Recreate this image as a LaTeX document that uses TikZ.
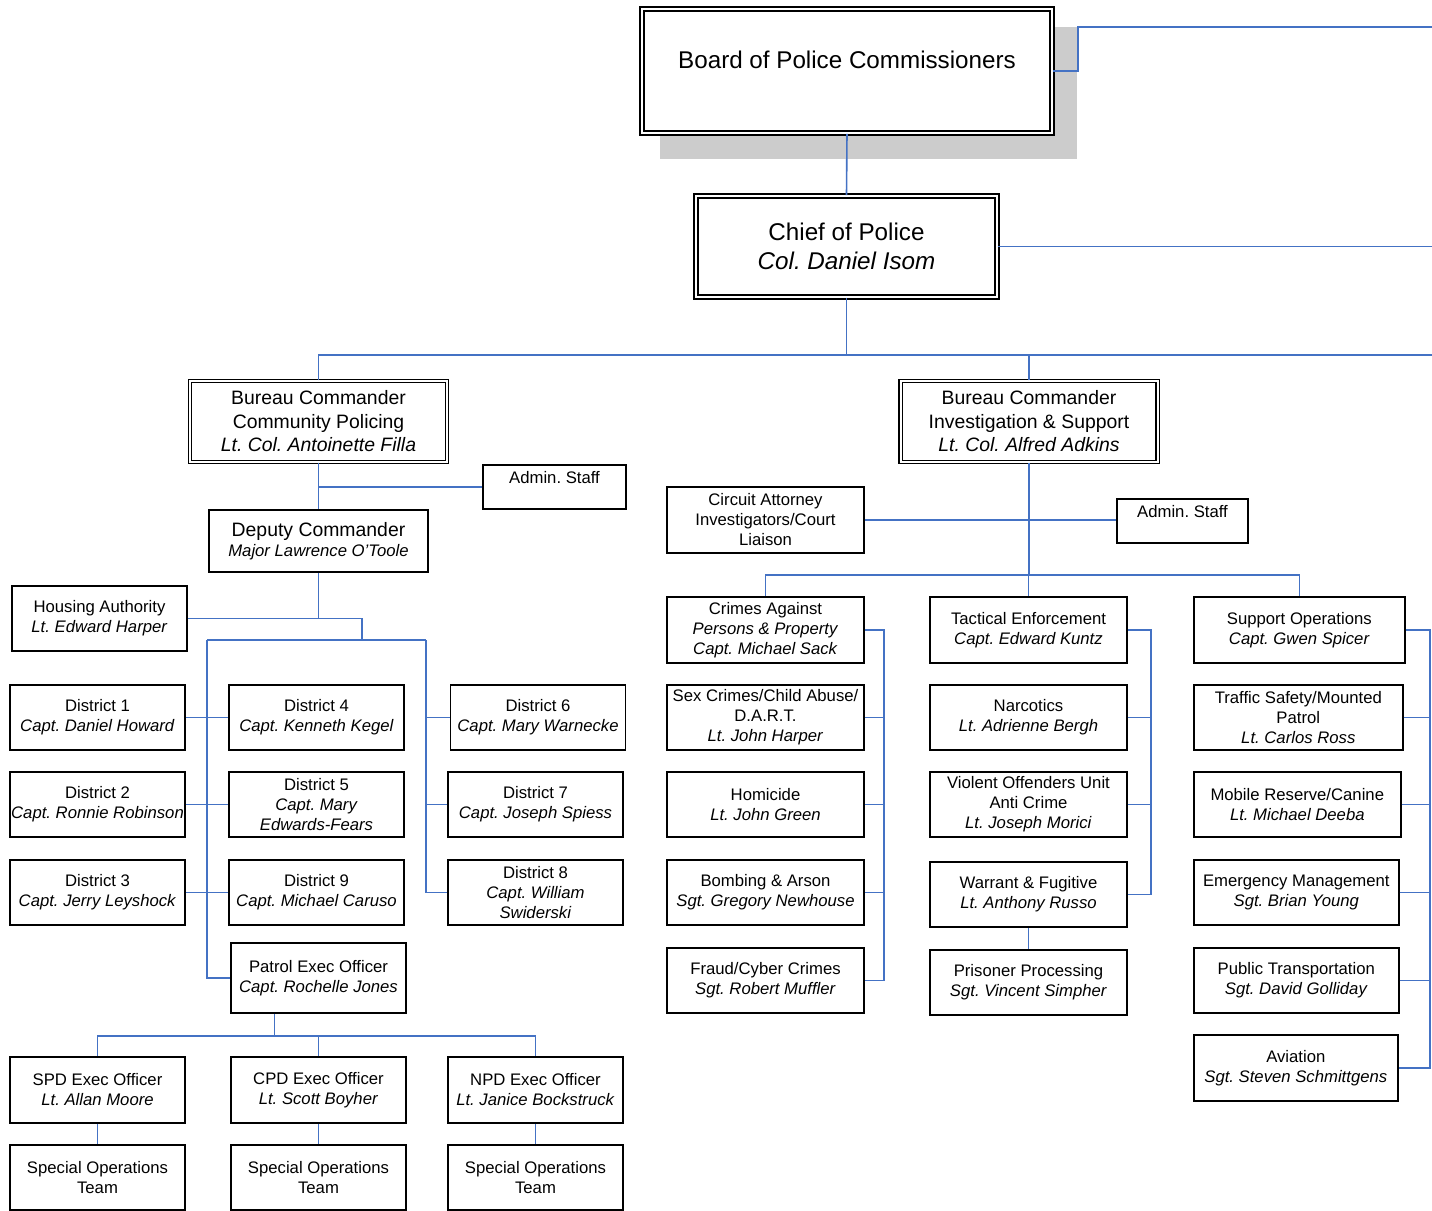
\documentclass[tikz,border=0pt]{standalone}
\usepackage{fontspec}
\setmainfont{Liberation Sans}
\usetikzlibrary{calc}
\frenchspacing
\definecolor{linkblue}{RGB}{68,114,196}
\definecolor{shadegray}{RGB}{204,204,204}
\newcommand{\smallsz}{\fontsize{8.35}{10}\selectfont}
\newcommand{\midsz}{\fontsize{9.7}{11.75}\selectfont}
\newcommand{\bigsz}{\fontsize{12.1}{14.5}\selectfont}
\tikzset{
  unit/.style={draw, line width=0.8pt, fill=white, align=center, inner sep=0pt, font=\smallsz, minimum width=87.5pt, minimum height=32.5pt},
  wideunit/.style={unit, minimum width=98.5pt, minimum height=33pt},
  headunit/.style={unit, double, line width=0.65pt, double distance=1pt, font=\midsz, minimum width=128.5pt, minimum height=40.5pt},
  topunit/.style={unit, double, line width=0.85pt, double distance=1.2pt, font=\bigsz},
  link/.style={draw=linkblue, line width=0.8pt}
}

\begin{document}
\begin{tikzpicture}[x=0.5pt, y=-0.5pt]
\useasboundingbox (0,0) rectangle (1432,1211);

% 1. Board and Chief
\fill[shadegray] (660,27) rectangle (1077,159);
\node[topunit, minimum width=205pt, minimum height=62pt] (board) at (847,71) {};
\node[font=\bigsz, inner sep=0pt] (boardtxt) at (847,60) {Board of Police Commissioners};
\node[topunit, minimum width=150.5pt, minimum height=50.5pt] (chief) at (846.5,246.5) {Chief of Police\\\textit{Col. Daniel Isom}};
\coordinate (offboard) at (1432,27);
\coordinate (offchief) at (1432,246.5);
\coordinate (offbus) at (1432,355);

% 2. Bureau commanders
\node[headunit] (bcp) at (318.5,421.5) {Bureau Commander\\Community Policing\\\textit{Lt. Col. Antoinette Filla}};
\node[headunit] (bis) at (1029,421.5) {Bureau Commander\\Investigation \& Support\\\textit{Lt. Col. Alfred Adkins}};

% 3. Community Policing side
\node[unit, minimum width=71.5pt, minimum height=22pt] (adminl) at (554.5,487) {Admin. Staff\\\mbox{}};
\node[unit, minimum width=109.5pt, minimum height=31pt] (deputy) at (318.5,541) {{\midsz Deputy Commander}\\\textit{Major Lawrence O'Toole}};
\node[unit] (housing) at (99.5,618.5) {Housing Authority\\\textit{Lt. Edward Harper}};

\node[unit] (dist1) at (97.5,717.5) {District 1\\\textit{Capt. Daniel Howard}};
\node[unit] (dist2) at (97.5,804.5) {District 2\\\textit{Capt. Ronnie Robinson}};
\node[unit] (dist3) at (97.5,892.5) {District 3\\\textit{Capt. Jerry Leyshock}};
\node[unit] (dist4) at (316.5,717.5) {District 4\\\textit{Capt. Kenneth Kegel}};
\node[unit] (dist5) at (316.5,804.5) {District 5\\\textit{Capt. Mary}\\\textit{Edwards-Fears}};
\node[unit] (dist9) at (316.5,892.5) {District 9\\\textit{Capt. Michael Caruso}};
\node[unit] (dist6) at (538,717.5) {District 6\\\textit{Capt. Mary Warnecke}};
\node[unit] (dist7) at (535.5,804.5) {District 7\\\textit{Capt. Joseph Spiess}};
\node[unit] (dist8) at (535.5,892.5) {District 8\\\textit{Capt. William}\\\textit{Swiderski}};
\node[unit, minimum height=35pt] (patrol) at (318.5,978) {Patrol Exec Officer\\\textit{Capt. Rochelle Jones}};

\node[unit, minimum height=33pt] (spd) at (97.5,1090) {SPD Exec Officer\\\textit{Lt. Allan Moore}};
\node[unit, minimum height=33pt] (cpd) at (318.5,1090) {CPD Exec Officer\\\textit{Lt. Scott Boyher}};
\node[unit, minimum height=33pt] (npd) at (535.5,1090) {NPD Exec Officer\\\textit{Lt. Janice Bockstruck}};
\node[unit] (spdteam) at (97.5,1177.5) {Special Operations\\Team};
\node[unit] (cpdteam) at (318.5,1177.5) {Special Operations\\Team};
\node[unit] (npdteam) at (535.5,1177.5) {Special Operations\\Team};

% 4. Investigation & Support side
\node[wideunit] (circuit) at (765.5,520) {Circuit Attorney\\Investigators/Court\\Liaison};
\node[unit, minimum width=65.5pt, minimum height=22pt] (adminr) at (1182.5,521) {Admin. Staff\\\mbox{}};

\node[wideunit] (crimes) at (765.5,630) {Crimes Against\\\textit{Persons \& Property}\\\textit{Capt. Michael Sack}};
\node[wideunit, minimum height=32.5pt] (sexcrimes) at (765.5,717.5) {Sex Crimes/Child Abuse/\\D.A.R.T.\\\textit{Lt. John Harper}};
\node[wideunit, minimum height=32.5pt] (homicide) at (765.5,804.5) {Homicide\\\textit{Lt. John Green}};
\node[wideunit, minimum height=32.5pt] (bombing) at (765.5,892.5) {Bombing \& Arson\\\textit{Sgt. Gregory Newhouse}};
\node[wideunit, minimum height=32.5pt] (fraud) at (765.5,980.5) {Fraud/Cyber Crimes\\\textit{Sgt. Robert Muffler}};

\node[wideunit] (tactical) at (1028.5,630) {Tactical Enforcement\\\textit{Capt. Edward Kuntz}};
\node[wideunit, minimum height=32.5pt] (narcotics) at (1028.5,717.5) {Narcotics\\\textit{Lt. Adrienne Bergh}};
\node[wideunit, minimum height=32.5pt] (violent) at (1028.5,804.5) {Violent Offenders Unit\\Anti Crime\\\textit{Lt. Joseph Morici}};
\node[wideunit, minimum height=32.5pt] (warrant) at (1028.5,894.5) {Warrant \& Fugitive\\\textit{Lt. Anthony Russo}};
\node[wideunit, minimum height=32.5pt] (prisoner) at (1028.5,982.5) {Prisoner Processing\\\textit{Sgt. Vincent Simpher}};

\node[unit, anchor=west, minimum width=105.5pt, minimum height=33pt] (support) at (1193,630) {Support Operations\\\textit{Capt. Gwen Spicer}};
\node[unit, anchor=west, minimum width=104.5pt] (traffic) at (1193,717.5) {Traffic Safety/Mounted\\Patrol\\\textit{Lt. Carlos Ross}};
\node[unit, anchor=west, minimum width=103.5pt] (mobile) at (1193,804.5) {Mobile Reserve/Canine\\\textit{Lt. Michael Deeba}};
\node[unit, anchor=west, minimum width=102.5pt] (emergency) at (1193,892.5) {Emergency Management\\\textit{Sgt. Brian Young}};
\node[unit, anchor=west, minimum width=102.5pt] (transport) at (1193,980.5) {Public Transportation\\\textit{Sgt. David Golliday}};
\node[unit, anchor=west, minimum width=102pt, minimum height=33pt] (aviation) at (1193,1068) {Aviation\\\textit{Sgt. Steven Schmittgens}};

% 5. Bus points
\coordinate (cpbus) at (318.5,619);
\coordinate (distbus) at (362,640);
\coordinate (leftbus) at (207,640);
\coordinate (rightbus) at (426,640);
\coordinate (patroltap) at ($(patrol.south west)!0.25!(patrol.south east)$);
\coordinate (patrolbus) at ($(patroltap)+(0,22)$);
\coordinate (isbus) at (1029,575);
\coordinate (crimesbus) at (884,630);
\coordinate (tacticalbus) at (1151,630);
\coordinate (supportbus) at (1430,630);

% 6. Connections
\draw[link] (board.south) -- (chief.north);
\draw[link] (board.east) -- ++(25,0) |- (offboard);
\draw[link] (chief.east) -- (offchief);
\draw[link] (chief.south) -- (chief.south |- offbus);
\draw[link] (bcp.north) |- (offbus);
\draw[link] (bis.north) -- (bis.north |- offbus);

\draw[link] (bcp.south) -- (deputy.north);
\draw[link] (adminl.west) -- (adminl.west -| bcp.south);
\draw[link] (deputy.south) -- (cpbus);
\draw[link] (housing.east) -| (distbus);
\draw[link] (leftbus) -- (rightbus);
\draw[link] (leftbus) |- (patrol.west);
\draw[link] (rightbus) |- (dist8.west);
\draw[link] (dist1.east) -- (dist4.west);
\draw[link] (dist2.east) -- (dist5.west);
\draw[link] (dist3.east) -- (dist9.west);
\draw[link] (dist6.west) -- (dist6.west -| rightbus);
\draw[link] (dist7.west) -- (dist7.west -| rightbus);

\draw[link] (patroltap) -- (patrolbus);
\draw[link] (spd.north) |- (patrolbus) -| (npd.north);
\draw[link] (cpd.north) -- (cpd.north |- patrolbus);
\draw[link] (spd.south) -- (spdteam.north);
\draw[link] (cpd.south) -- (cpdteam.north);
\draw[link] (npd.south) -- (npdteam.north);

\draw[link] (bis.south) -- (isbus);
\draw[link] (circuit.east) -- (circuit.east -| adminr.west);
\draw[link] (crimes.north) |- (isbus) -| (support.north);
\draw[link] (tactical.north) -- (tactical.north |- isbus);

\draw[link] (crimes.east) -- (crimesbus) |- (fraud.east);
\foreach \n in {sexcrimes,homicide,bombing}
  \draw[link] (\n.east) -- (\n.east -| crimesbus);
\draw[link] (tactical.east) -- (tacticalbus) |- (warrant.east);
\foreach \n in {narcotics,violent}
  \draw[link] (\n.east) -- (\n.east -| tacticalbus);
\draw[link] (warrant.south) -- (prisoner.north);
\draw[link] (support.east) -- (supportbus) |- (aviation.east);
\foreach \n in {traffic,mobile,emergency,transport}
  \draw[link] (\n.east) -- (\n.east -| supportbus);

\end{tikzpicture}
\end{document}
